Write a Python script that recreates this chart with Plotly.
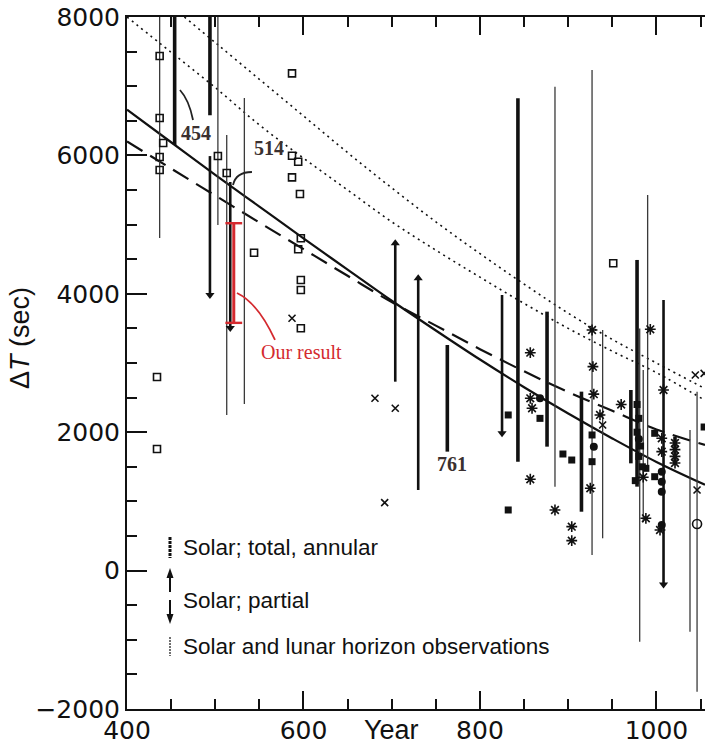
import plotly.graph_objects as go

# ---- fitted curves, ΔT in seconds ----
curve_years = [400, 450, 500, 550, 600, 650, 700, 750, 800, 850, 900, 950, 1000, 1055]
solid_fit = [6660, 6190, 5720, 5260, 4800, 4350, 3900, 3470, 3050, 2650, 2270, 1910, 1570, 1240]
dashed_fit = [6200, 5810, 5420, 5030, 4645, 4260, 3880, 3540, 3200, 2880, 2580, 2310, 2040, 1815]
dotted_low = [8000, 7490, 6980, 6440, 5960, 5500, 5040, 4630, 4240, 3860, 3500, 3170, 2860, 2460]
dotted_high_years = [465, 500, 550, 600, 650, 700, 750, 800, 850, 900, 950, 1000, 1055]
dotted_high = [8000, 7630, 7100, 6570, 6040, 5530, 5040, 4580, 4140, 3720, 3340, 3000, 2630]

# ---- observations: (year, lower ΔT, upper ΔT) ----
total_annular = [(454, 6150, 8000), (494, 6580, 8000), (763, 1719, 3260), (843, 1574, 6825),
                 (876, 1791, 3742), (915, 851, 2586), (978, 1213, 4489), (971, 1550, 2610),
                 (1021, 1555, 1936)]
partial_down = [(494, 3983, 5990), (517, 3506, 5616), (825, 1984, 3983), (1008, -200, 3911)]
partial_up = [(704, 2730, 4730), (730, 1165, 4224)]
horizon = [(437, 4807, 8000), (503, 4994, 8000), (513, 2249, 6295), (533, 2408, 6830),
           (885, 1213, 6993), (927, 226, 7234), (939, 467, 3477), (981, -1027, 3500),
           (990, 1500, 5428), (1038, -882, 2032), (1046, -1751, 2586), (985, 700, 2900)]

open_sq_x = [437, 437, 441, 437, 437, 434, 434, 503, 513, 544, 587, 587, 594, 587, 596,
             597, 594, 597, 597, 597, 951]
open_sq_y = [7436, 6540, 6180, 5977, 5790, 2798, 1757, 5991, 5746, 4594, 7186, 5996, 5909, 5683, 5442,
             4802, 4643, 4200, 4055, 3502, 4441]
cross_x = [587, 681, 704, 692, 1044, 1054, 1046, 939]
cross_y = [3646, 2490, 2346, 982, 2827, 2850, 1165, 2104]
star_x = [857, 857, 859, 857, 885, 904, 904, 927, 928, 925, 936, 993, 1008, 1006, 1006, 1004,
          1021, 1021, 1021, 1021, 988, 985, 960, 929]
star_y = [3149, 2490, 2346, 1320, 876, 635, 433, 3477, 2947, 1190, 2249, 3487, 2610, 1912, 1719, 587,
          1844, 1748, 1651, 1555, 756, 1350, 2400, 2550]
fsq_x = [832, 832, 868, 894, 904, 927, 927, 998, 988, 998, 1054, 978, 980, 978, 982, 980, 984, 976]
fsq_y = [2249, 876, 2200, 1685, 1598, 1574, 1960, 1984, 1478, 1357, 2075, 2400, 2200, 2000, 1800,
         1650, 1500, 1300]
fcirc_x = [868, 929, 1006, 1006, 1006, 1006, 980]
fcirc_y = [2490, 1791, 1430, 1285, 1141, 659, 1900]
ocirc_x = [1046]
ocirc_y = [674]

our_year = 521
our_low, our_high = 3580, 5020

RED = "#d42a2f"
INK = "#111111"


def segments(rows):
    xs, ys = [], []
    for yr, lo, hi in rows:
        xs += [yr, yr, None]
        ys += [lo, hi, None]
    return xs, ys


fig = go.Figure()

# fitted curves
fig.add_trace(go.Scatter(x=curve_years, y=dotted_low, mode="lines", line_shape="spline",
                         line=dict(color=INK, width=1.6, dash="2px,4px")))
fig.add_trace(go.Scatter(x=dotted_high_years, y=dotted_high, mode="lines", line_shape="spline",
                         line=dict(color=INK, width=1.6, dash="2px,4px")))
fig.add_trace(go.Scatter(x=curve_years, y=dashed_fit, mode="lines", line_shape="spline",
                         line=dict(color=INK, width=2.2, dash="18px,9px")))
fig.add_trace(go.Scatter(x=curve_years, y=solid_fit, mode="lines", line_shape="spline",
                         line=dict(color=INK, width=2.2)))

# vertical ranges
hx, hy = segments(horizon)
fig.add_trace(go.Scatter(x=hx, y=hy, mode="lines", line=dict(color="#3a3a3a", width=1.3)))
tx, ty = segments(total_annular)
fig.add_trace(go.Scatter(x=tx, y=ty, mode="lines", line=dict(color=INK, width=3.6)))
px_, py_ = segments(partial_down + partial_up)
fig.add_trace(go.Scatter(x=px_, y=py_, mode="lines", line=dict(color=INK, width=2.6)))
fig.add_trace(go.Scatter(x=[r[0] for r in partial_down], y=[r[1] for r in partial_down],
                         mode="markers", marker=dict(symbol="triangle-down", size=8, color=INK)))
fig.add_trace(go.Scatter(x=[r[0] for r in partial_up], y=[r[2] for r in partial_up],
                         mode="markers", marker=dict(symbol="triangle-up", size=8, color=INK)))

# point estimates
fig.add_trace(go.Scatter(x=open_sq_x, y=open_sq_y, mode="markers",
                         marker=dict(symbol="square-open", size=7, color=INK, line=dict(width=1.6))))
fig.add_trace(go.Scatter(x=cross_x, y=cross_y, mode="markers",
                         marker=dict(symbol="x-thin-open", size=7, color=INK, line=dict(width=1.6))))
fig.add_trace(go.Scatter(x=star_x, y=star_y, mode="markers",
                         marker=dict(symbol="asterisk-open", size=9, color=INK, line=dict(width=1.6))))
fig.add_trace(go.Scatter(x=fsq_x, y=fsq_y, mode="markers",
                         marker=dict(symbol="square", size=7, color=INK)))
fig.add_trace(go.Scatter(x=fcirc_x, y=fcirc_y, mode="markers",
                         marker=dict(symbol="circle", size=8, color=INK)))
fig.add_trace(go.Scatter(x=ocirc_x, y=ocirc_y, mode="markers",
                         marker=dict(symbol="circle-open", size=9, color=INK, line=dict(width=1.6))))

# our result
fig.add_trace(go.Scatter(x=[our_year, our_year], y=[our_low, our_high], mode="lines+markers",
                         line=dict(color=RED, width=3),
                         marker=dict(symbol="line-ew-open", size=12, color=RED, line=dict(width=2.4, color=RED))))

# ---- layout geometry (pixels) ----
W, H = 705, 746
L, T, B = 127, 17, 37
PW, PH = W - L, H - T - B


def pxx(px):
    return (px - L) / PW


def pxy(py):
    return (H - B - py) / PH


shapes = []
# leader lines for labelled events
shapes.append(dict(type="path", xref="x", yref="y", path="M 460,6945 Q 470.3,6801 474.8,6512",
                   line=dict(color="#222", width=1.8)))
shapes.append(dict(type="path", xref="x", yref="y", path="M 520.1,5572 Q 523.5,5760 541.6,5760",
                   line=dict(color="#222", width=1.8)))
shapes.append(dict(type="path", xref="x", yref="y", path="M 524.6,4012 Q 548.4,3867 567.7,3333",
                   line=dict(color=RED, width=1.8)))

# key glyphs
kx = pxx(170)
shapes.append(dict(type="line", xref="paper", yref="paper", x0=kx, x1=kx, y0=pxy(537), y1=pxy(558),
                   line=dict(color=INK, width=3, dash="3px,1px")))
shapes.append(dict(type="line", xref="paper", yref="paper", x0=kx, x1=kx, y0=pxy(574), y1=pxy(592),
                   line=dict(color=INK, width=2)))
shapes.append(dict(type="line", xref="paper", yref="paper", x0=kx, x1=kx, y0=pxy(600), y1=pxy(618),
                   line=dict(color=INK, width=2)))
shapes.append(dict(type="line", xref="paper", yref="paper", x0=kx, x1=kx, y0=pxy(637), y1=pxy(656),
                   line=dict(color=INK, width=1.2, dash="2px,1px")))
tri = 3.5 / PW
shapes.append(dict(type="path", xref="paper", yref="paper", fillcolor=INK, line=dict(width=0),
                   path=f"M {kx} {pxy(568)} L {kx - tri} {pxy(578)} L {kx + tri} {pxy(578)} Z"))
shapes.append(dict(type="path", xref="paper", yref="paper", fillcolor=INK, line=dict(width=0),
                   path=f"M {kx} {pxy(624)} L {kx - tri} {pxy(614)} L {kx + tri} {pxy(614)} Z"))

SANS = "DejaVu Sans"
KEYFONT = "Liberation Sans"
SERIF = "Liberation Serif"


def label(text, x, y, font, xanchor="center", **kw):
    return dict(text=text, xref="paper", yref="paper", x=x, y=y, xanchor=xanchor, yanchor="middle",
                showarrow=False, font=font, **kw)


num_font = dict(family=SERIF, size=20, color="#3a3030")
key_font = dict(family=KEYFONT, size=22.5, color=INK)
annotations = [
    label("Δ<i>T</i> (sec)", pxx(20), pxy(338), dict(family=KEYFONT, size=27, color=INK), textangle=-90),
    label("Year", pxx(391), pxy(730), dict(family=KEYFONT, size=27, color=INK)),
    label("<b>454</b>", pxx(196), pxy(133), num_font),
    label("<b>514</b>", pxx(269), pxy(148), num_font),
    label("<b>761</b>", pxx(452), pxy(464), num_font),
    label("Our result", pxx(301), pxy(352), dict(family=SERIF, size=20, color=RED)),
    label("Solar; total, annular", pxx(181), pxy(547), key_font, xanchor="left"),
    label("Solar; partial", pxx(181), pxy(600), key_font, xanchor="left"),
    label("Solar and lunar horizon observations", pxx(181), pxy(646), key_font, xanchor="left"),
]

fig.update_layout(
    width=W, height=H, margin=dict(l=L, r=0, t=T, b=B),
    paper_bgcolor="white", plot_bgcolor="white", showlegend=False,
    shapes=shapes, annotations=annotations,
    xaxis=dict(range=[400, 1055], tickvals=[400, 600, 800, 1000], ticks="inside", ticklen=18,
               tickwidth=2, tickcolor=INK, showline=True, linecolor=INK, linewidth=2, mirror="ticks",
               showgrid=False, zeroline=False, ticklabelstandoff=-2,
               minor=dict(dtick=50, tick0=400, ticks="inside", ticklen=10, tickwidth=2, tickcolor=INK),
               tickfont=dict(family=SANS, size=25, color=INK)),
    yaxis=dict(range=[-2000, 8000], tickvals=[-2000, 0, 2000, 4000, 6000, 8000], ticks="inside",
               ticklen=20, tickwidth=2, tickcolor=INK, showline=True, linecolor=INK, linewidth=2,
               showgrid=False, zeroline=False,
               minor=dict(dtick=500, tick0=0, ticks="inside", ticklen=10, tickwidth=2, tickcolor=INK),
               tickfont=dict(family=SANS, size=25, color=INK)),
)

fig.write_html("out.html")
